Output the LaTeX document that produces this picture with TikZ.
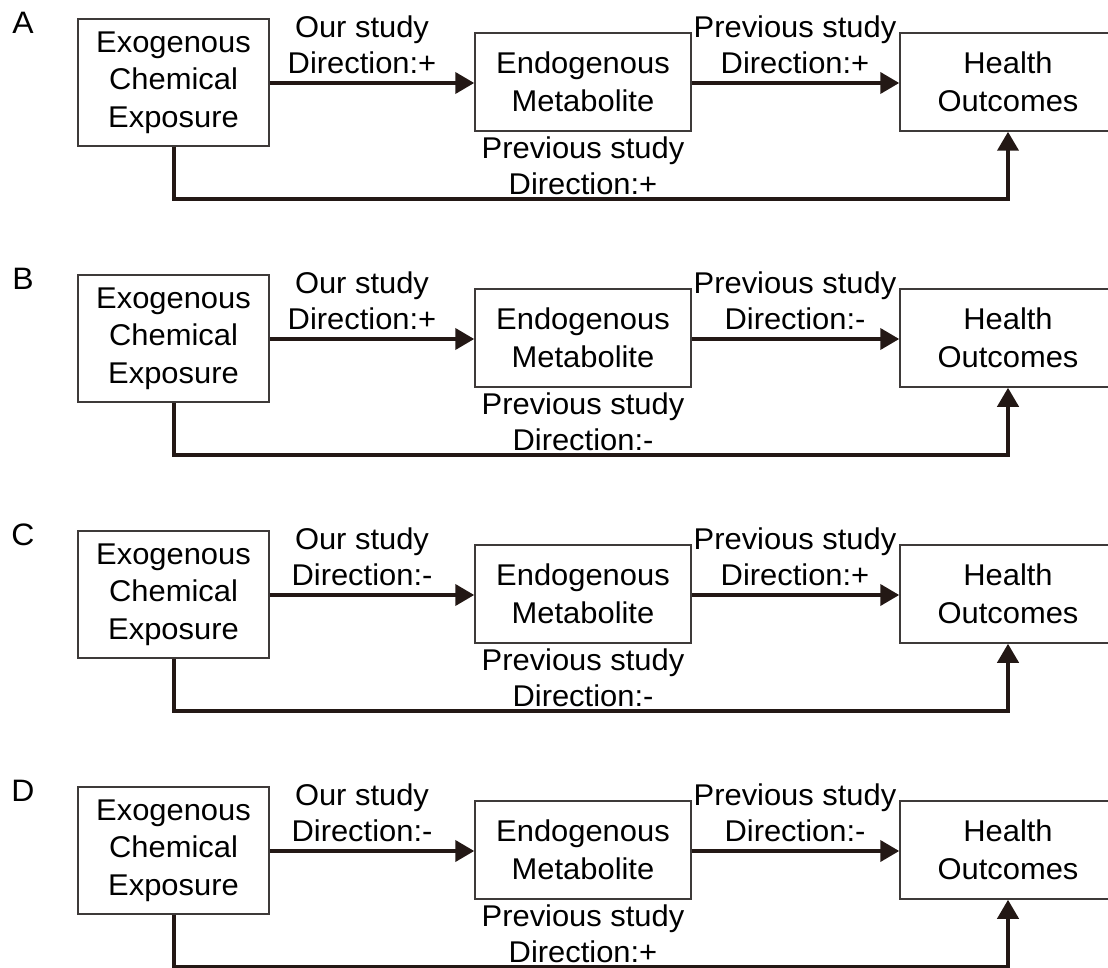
\documentclass[tikz,border=0pt]{standalone}
\usepackage{fontspec}
\setmainfont{Liberation Sans}[FakeStretch=1.03]
\usetikzlibrary{arrows.meta}
\definecolor{ink}{HTML}{231815}
\definecolor{boxline}{HTML}{3E3A39}
\begin{document}
\begin{tikzpicture}[x=1pt,y=-1pt,
  box/.style={draw=boxline,line width=1.5pt,inner sep=0pt,align=center,
    font=\fontsize{30}{37.5}\selectfont},
  lbl/.style={inner sep=0pt,align=center,font=\fontsize{30}{36}\selectfont},
  plabel/.style={inner sep=0pt,font=\fontsize{31}{31}\selectfont},
  conn/.style={draw=ink,line width=4pt,-{Triangle[length=19pt,width=21pt]}}]
\useasboundingbox (0,0) rectangle (1108,968);
\clip (0,0) rectangle (1108,968);
\foreach \p/\off/\da/\db/\dc in {A/0/+/+/+,B/256/+/-/-,C/512/-/+/-,D/768/-/-/+}{
  \node[plabel] (l\p) at (23,\off+23) {\p};
  \node[box,minimum width=191pt,minimum height=127pt] (e\p) at (173.5,\off+82.5)
    {Exogenous\\Chemical\\Exposure};
  \node[box,minimum width=216pt,minimum height=98pt] (m\p) at (583,\off+82)
    {Endogenous\\Metabolite};
  \node[box,minimum width=216pt,minimum height=98pt] (h\p) at (1008,\off+82)
    {Health\\Outcomes};
  \node[lbl] (o\p) at (362,\off+45) {Our study\\Direction:\da};
  \node[lbl] (q\p) at (795,\off+45) {Previous study\\Direction:\db};
  \node[lbl] (r\p) at (583,\off+166) {Previous study\\Direction:\dc};
  \coordinate (b\p) at (173.5,\off+199);
  \draw[conn] (e\p.east |- 0,\off+83) -- (m\p.west |- 0,\off+83);
  \draw[conn] (m\p.east |- 0,\off+83) -- (h\p.west |- 0,\off+83);
  \draw[conn] (e\p.south) -- (b\p) -| (h\p.south);
}
\end{tikzpicture}
\end{document}
